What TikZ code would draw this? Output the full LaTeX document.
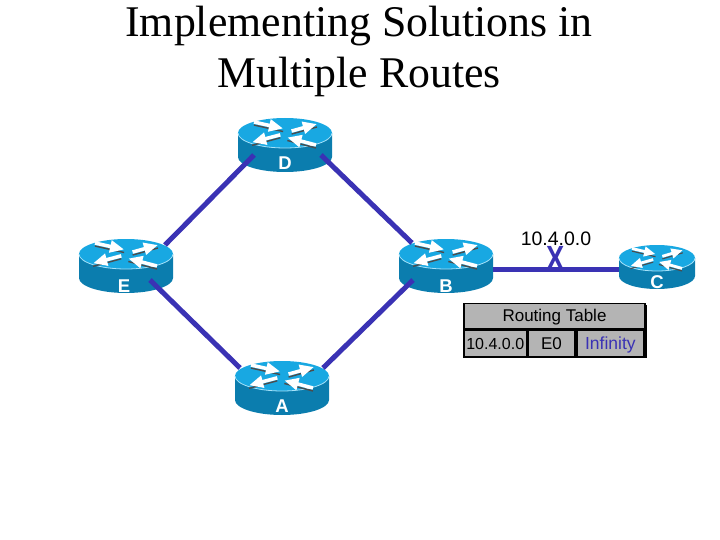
\documentclass[tikz,border=0pt]{standalone}
\usepackage{fontspec}
\setmainfont{Liberation Sans}
\newfontfamily\titlefont{Liberation Serif}
\usepackage{xcolor}
\usetikzlibrary{positioning,arrows.meta,shapes.geometric,fit,calc}
\definecolor{linkblue}{HTML}{3A32B4}
\definecolor{toptint}{HTML}{18A8E2}
\definecolor{sidetint}{HTML}{0B7DAE}
\definecolor{cellgray}{HTML}{B4B4B4}
\tikzset{
titleline/.style={font=\titlefont\fontsize{43.8}{44}\selectfont,inner sep=0pt},
routerport/.style={ellipse,minimum width=#1,inner sep=0pt},
routerlabel/.style={text=white,font=\fontsize{18.5}{19}\selectfont\bfseries,inner sep=0pt},
link/.style={draw=linkblue,line width=5pt},
cell/.style={draw=black,line width=1.8pt,fill=cellgray,inner sep=0pt,text height=11pt,text depth=0pt,font=\fontsize{#1}{17}\selectfont},
turn/.style={white,line width=#1*.075pt,-{Triangle[length=#1*.3pt,width=#1*.25pt]}},
turnshade/.style={black!70,line width=#1*.03pt}
}
% name, x, y of the top face, half width, half height, side height, label, label x, label y
\newcommand{\router}[9]{
\fill[sidetint] (#2-#4,#3) -- (#2-#4,#3+#6) arc[start angle=180,end angle=360,x radius=#4,y radius=-#5] -- (#2+#4,#3) -- cycle;
\fill[toptint] (#2,#3) ellipse[x radius=#4,y radius=#5];
\draw[cyan!35,line width=.8pt] (#2-#4,#3) arc[start angle=180,end angle=360,x radius=#4,y radius=-#5];
\begin{scope}[shift={(#2,#3)},x=#4pt,y=-#5pt]
\foreach \ax/\ay/\bx/\by in {-.66/-.73/-.04/-.3,.14/-.13/.68/-.6,-.1/.12/-.7/.62,.66/.8/.05/.3}{
\draw[turnshade=#4] (\ax,\ay+.2)--(\bx,\by+.2);
\draw[turn=#4] (\ax,\ay)--(\bx,\by);}
\end{scope}
\node[routerport=#4*2pt,minimum height=#5*2pt+#6*1pt] (#1) at (#2,#3+#6/2) {};
\node[routerlabel] (#1label) at (#8,#9) {#7};
}
\begin{document}
\begin{tikzpicture}[x=1pt,y=-1pt]
\useasboundingbox (0,0) rectangle (720,540);
\node[titleline] (title1) at (359,26) {Implementing Solutions in};
\node[titleline] (title2) at (359,77) {Multiple Routes};
\router{d}{285}{133}{47}{15}{24}{D}{285}{163}
\router{e}{126}{254}{47}{15}{24}{E}{124}{286}
\router{b}{446}{254}{47}{15}{24}{B}{446}{286}
\router{a}{282}{376}{47}{15}{24}{A}{282}{406}
\router{c}{657}{258}{38}{13}{18}{C}{657}{282}
\draw[link]($(d)+(-31,10)$)--($(e)+(39,-21)$);
\draw[link]($(d)+(36,10)$)--($(b)+(-34,-23)$);
\draw[link]($(e)+(24,14)$)--($(a)+(-42,-20)$);
\draw[link]($(a)+(41,-20)$)--($(b)+(-33,14)$);
\draw[link]($(b)+(47,3)$)--($(c)+(-38,2)$);
\node[inner sep=0pt,font=\fontsize{19.5}{20}\selectfont] (net) at (556,239) {10.4.0.0};
\node[inner sep=0pt,text=linkblue,font=\fontsize{35}{35}\selectfont\bfseries,xscale=.78] (cut) at (556,258) {X};
\fill[black] (465,305) rectangle (647,358);
\node[cell=17,minimum width=181pt,minimum height=25pt] (head) at (554.5,316) {Routing Table};
\node[cell=16,minimum width=62.5pt,minimum height=27pt,below=0pt of head.south west,anchor=north west] (route) {10.4.0.0};
\node[cell=17,minimum width=46.5pt,minimum height=27pt,right=0pt of route] (port) {E0};
\node[cell=17.5,minimum width=67.5pt,minimum height=27pt,right=0pt of port,text=linkblue] (metric) {Infinity};
\end{tikzpicture}
\end{document}
